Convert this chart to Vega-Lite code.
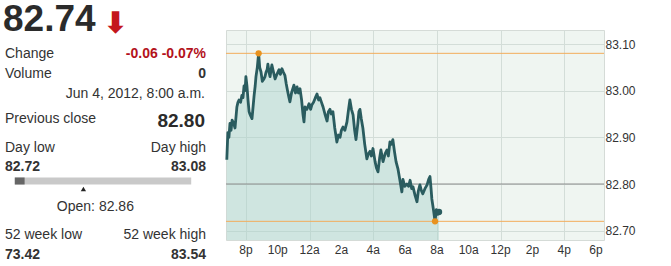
{
  "$schema": "https://vega.github.io/schema/vega-lite/v6.json",
  "padding": 0,
  "spacing": 11,
  "config": {
    "view": {"stroke": null},
    "font": "Liberation Sans",
    "text": {"font": "Liberation Sans"}
  },
  "hconcat": [
    {
      "width": 212,
      "height": 266,
      "layer": [
        {
          "data": {"values": [{"last": "82.74"}]},
          "mark": {"type": "text", "align": "left", "baseline": "alphabetic", "fontSize": 37, "fontWeight": "bold", "color": "#2b2b2b", "x": 2, "y": 30},
          "encoding": {"text": {"field": "last"}}
        },
        {
          "data": {"values": [{"dir": "⬇"}]},
          "mark": {"type": "text", "align": "left", "baseline": "alphabetic", "font": "DejaVu Sans", "fontSize": 30, "fontWeight": "bold", "color": "#c4161c", "x": 102, "y": 32},
          "encoding": {"text": {"field": "dir"}}
        },
        {
          "data": {"values": [{"label": "Change"}]},
          "mark": {"type": "text", "align": "left", "baseline": "alphabetic", "fontSize": 14, "color": "#333", "x": 4, "y": 57},
          "encoding": {"text": {"field": "label"}}
        },
        {
          "data": {"values": [{"label": "Volume"}]},
          "mark": {"type": "text", "align": "left", "baseline": "alphabetic", "fontSize": 14, "color": "#333", "x": 4, "y": 77},
          "encoding": {"text": {"field": "label"}}
        },
        {
          "data": {"values": [{"value": "-0.06 -0.07%"}]},
          "mark": {"type": "text", "align": "right", "baseline": "alphabetic", "fontSize": 14, "fontWeight": "bold", "color": "#b3121b", "x": 205, "y": 57},
          "encoding": {"text": {"field": "value"}}
        },
        {
          "data": {"values": [{"value": "0"}]},
          "mark": {"type": "text", "align": "right", "baseline": "alphabetic", "fontSize": 14, "fontWeight": "bold", "color": "#333", "x": 205, "y": 77},
          "encoding": {"text": {"field": "value"}}
        },
        {
          "data": {"values": [{"value": "Jun 4, 2012, 8:00 a.m."}]},
          "mark": {"type": "text", "align": "right", "baseline": "alphabetic", "fontSize": 14, "color": "#333", "x": 204, "y": 97},
          "encoding": {"text": {"field": "value"}}
        },
        {
          "data": {"values": [{"label": "Previous close"}]},
          "mark": {"type": "text", "align": "left", "baseline": "alphabetic", "fontSize": 14, "color": "#333", "x": 4, "y": 122},
          "encoding": {"text": {"field": "label"}}
        },
        {
          "data": {"values": [{"value": "82.80"}]},
          "mark": {"type": "text", "align": "right", "baseline": "alphabetic", "fontSize": 19, "fontWeight": "bold", "color": "#2b2b2b", "x": 204, "y": 126},
          "encoding": {"text": {"field": "value"}}
        },
        {
          "data": {"values": [{"label": "Day low"}]},
          "mark": {"type": "text", "align": "left", "baseline": "alphabetic", "fontSize": 14, "color": "#333", "x": 4, "y": 151},
          "encoding": {"text": {"field": "label"}}
        },
        {
          "data": {"values": [{"label": "Day high"}]},
          "mark": {"type": "text", "align": "right", "baseline": "alphabetic", "fontSize": 14, "color": "#333", "x": 205, "y": 151},
          "encoding": {"text": {"field": "label"}}
        },
        {
          "data": {"values": [{"value": "82.72"}]},
          "mark": {"type": "text", "align": "left", "baseline": "alphabetic", "fontSize": 14, "fontWeight": "bold", "color": "#333", "x": 4, "y": 170},
          "encoding": {"text": {"field": "value"}}
        },
        {
          "data": {"values": [{"value": "83.08"}]},
          "mark": {"type": "text", "align": "right", "baseline": "alphabetic", "fontSize": 14, "fontWeight": "bold", "color": "#333", "x": 205, "y": 170},
          "encoding": {"text": {"field": "value"}}
        },
        {
          "data": {"values": [{"low": 82.72, "high": 83.08, "last": 82.74, "open": 82.86}]},
          "layer": [
            {
              "mark": {"type": "rule", "strokeWidth": 7, "color": "#c9c9c9", "y": 180},
              "encoding": {
                "x": {"field": "low", "type": "quantitative", "scale": {"domain": [82.72, 83.08], "range": [4, 200]}, "axis": null},
                "x2": {"field": "high"}
              }
            },
            {
              "mark": {"type": "rule", "strokeWidth": 7, "color": "#666", "y": 180},
              "encoding": {
                "x": {"field": "low", "type": "quantitative"},
                "x2": {"field": "last"}
              }
            },
            {
              "mark": {"type": "point", "shape": "triangle-up", "filled": true, "size": 28, "color": "#222", "opacity": 1, "y": 188},
              "encoding": {"x": {"field": "open", "type": "quantitative"}}
            },
            {
              "mark": {"type": "text", "align": "center", "baseline": "alphabetic", "fontSize": 14, "color": "#333", "dx": 12, "y": 210},
              "encoding": {
                "x": {"field": "open", "type": "quantitative"},
                "text": {"value": "Open: 82.86"}
              }
            }
          ]
        },
        {
          "data": {"values": [{"label": "52 week low"}]},
          "mark": {"type": "text", "align": "left", "baseline": "alphabetic", "fontSize": 14, "color": "#333", "x": 4, "y": 238},
          "encoding": {"text": {"field": "label"}}
        },
        {
          "data": {"values": [{"label": "52 week high"}]},
          "mark": {"type": "text", "align": "right", "baseline": "alphabetic", "fontSize": 14, "color": "#333", "x": 205, "y": 238},
          "encoding": {"text": {"field": "label"}}
        },
        {
          "data": {"values": [{"value": "73.42"}]},
          "mark": {"type": "text", "align": "left", "baseline": "alphabetic", "fontSize": 14, "fontWeight": "bold", "color": "#333", "x": 4, "y": 258},
          "encoding": {"text": {"field": "value"}}
        },
        {
          "data": {"values": [{"value": "83.54"}]},
          "mark": {"type": "text", "align": "right", "baseline": "alphabetic", "fontSize": 14, "fontWeight": "bold", "color": "#333", "x": 205, "y": 258},
          "encoding": {"text": {"field": "value"}}
        },
        {
          "data": {"values": [{"sep": "quote"}]},
          "mark": {"type": "rule", "color": "#d0d0d0", "strokeWidth": 1, "x": 0, "x2": 212, "y": 104},
          "encoding": {}
        },
        {
          "data": {"values": [{"sep": "day"}]},
          "mark": {"type": "rule", "color": "#d0d0d0", "strokeWidth": 1, "x": 0, "x2": 212, "y": 134},
          "encoding": {}
        },
        {
          "data": {"values": [{"sep": "week"}]},
          "mark": {"type": "rule", "color": "#d0d0d0", "strokeWidth": 1, "x": 0, "x2": 212, "y": 222},
          "encoding": {}
        }
      ]
    },
    {
      "spacing": 0,
      "vconcat": [
        {
          "width": 378,
          "height": 28,
          "data": {"values": [{"note": ""}]},
          "mark": {"type": "text"},
          "encoding": {"text": {"field": "note"}}
        },
        {
          "width": 378,
          "height": 210,
          "view": {"fill": "#eff5f1", "stroke": "#d5dbd7"},
          "layer": [
            {
              "data": {"name": "series", "values": [
                {"t": "2012-06-03T18:48Z", "price": 82.852},
                {"t": "2012-06-03T18:52Z", "price": 82.91},
                {"t": "2012-06-03T18:56Z", "price": 82.90},
                {"t": "2012-06-03T19:00Z", "price": 82.93},
                {"t": "2012-06-03T19:04Z", "price": 82.915},
                {"t": "2012-06-03T19:08Z", "price": 82.937},
                {"t": "2012-06-03T19:14Z", "price": 82.93},
                {"t": "2012-06-03T19:19Z", "price": 82.92},
                {"t": "2012-06-03T19:26Z", "price": 82.965},
                {"t": "2012-06-03T19:30Z", "price": 82.975},
                {"t": "2012-06-03T19:34Z", "price": 82.98},
                {"t": "2012-06-03T19:40Z", "price": 82.975},
                {"t": "2012-06-03T19:45Z", "price": 82.99},
                {"t": "2012-06-03T19:49Z", "price": 82.985},
                {"t": "2012-06-03T19:53Z", "price": 83.01},
                {"t": "2012-06-03T19:57Z", "price": 83.00},
                {"t": "2012-06-03T20:00Z", "price": 83.03},
                {"t": "2012-06-03T20:04Z", "price": 83.01},
                {"t": "2012-06-03T20:08Z", "price": 82.98},
                {"t": "2012-06-03T20:12Z", "price": 82.955},
                {"t": "2012-06-03T20:15Z", "price": 82.95},
                {"t": "2012-06-03T20:19Z", "price": 82.945},
                {"t": "2012-06-03T20:23Z", "price": 82.94},
                {"t": "2012-06-03T20:27Z", "price": 82.965},
                {"t": "2012-06-03T20:31Z", "price": 82.99},
                {"t": "2012-06-03T20:35Z", "price": 83.01},
                {"t": "2012-06-03T20:38Z", "price": 83.03},
                {"t": "2012-06-03T20:43Z", "price": 83.05},
                {"t": "2012-06-03T20:48Z", "price": 83.08},
                {"t": "2012-06-03T20:52Z", "price": 83.05},
                {"t": "2012-06-03T20:57Z", "price": 83.04},
                {"t": "2012-06-03T21:02Z", "price": 83.02},
                {"t": "2012-06-03T21:08Z", "price": 83.025},
                {"t": "2012-06-03T21:12Z", "price": 83.03},
                {"t": "2012-06-03T21:16Z", "price": 83.04},
                {"t": "2012-06-03T21:20Z", "price": 83.045},
                {"t": "2012-06-03T21:23Z", "price": 83.057},
                {"t": "2012-06-03T21:27Z", "price": 83.04},
                {"t": "2012-06-03T21:31Z", "price": 83.03},
                {"t": "2012-06-03T21:35Z", "price": 83.045},
                {"t": "2012-06-03T21:38Z", "price": 83.055},
                {"t": "2012-06-03T21:44Z", "price": 83.04},
                {"t": "2012-06-03T21:50Z", "price": 83.025},
                {"t": "2012-06-03T21:57Z", "price": 83.035},
                {"t": "2012-06-03T22:05Z", "price": 83.045},
                {"t": "2012-06-03T22:10Z", "price": 83.035},
                {"t": "2012-06-03T22:16Z", "price": 83.047},
                {"t": "2012-06-03T22:21Z", "price": 83.04},
                {"t": "2012-06-03T22:27Z", "price": 83.033},
                {"t": "2012-06-03T22:32Z", "price": 83.015},
                {"t": "2012-06-03T22:37Z", "price": 83.0},
                {"t": "2012-06-03T22:42Z", "price": 82.986},
                {"t": "2012-06-03T22:46Z", "price": 82.976},
                {"t": "2012-06-03T22:52Z", "price": 82.995},
                {"t": "2012-06-03T23:01Z", "price": 83.012},
                {"t": "2012-06-03T23:07Z", "price": 82.995},
                {"t": "2012-06-03T23:13Z", "price": 83.008},
                {"t": "2012-06-03T23:18Z", "price": 82.995},
                {"t": "2012-06-03T23:24Z", "price": 83.004},
                {"t": "2012-06-03T23:30Z", "price": 82.98},
                {"t": "2012-06-03T23:35Z", "price": 82.95},
                {"t": "2012-06-03T23:39Z", "price": 82.933},
                {"t": "2012-06-03T23:43Z", "price": 82.965},
                {"t": "2012-06-03T23:50Z", "price": 82.96},
                {"t": "2012-06-03T23:58Z", "price": 82.972},
                {"t": "2012-06-04T00:04Z", "price": 82.96},
                {"t": "2012-06-04T00:09Z", "price": 82.97},
                {"t": "2012-06-04T00:15Z", "price": 82.975},
                {"t": "2012-06-04T00:22Z", "price": 82.985},
                {"t": "2012-06-04T00:28Z", "price": 82.993},
                {"t": "2012-06-04T00:34Z", "price": 82.98},
                {"t": "2012-06-04T00:39Z", "price": 82.985},
                {"t": "2012-06-04T00:45Z", "price": 82.975},
                {"t": "2012-06-04T00:51Z", "price": 82.965},
                {"t": "2012-06-04T00:58Z", "price": 82.95},
                {"t": "2012-06-04T01:06Z", "price": 82.935},
                {"t": "2012-06-04T01:11Z", "price": 82.955},
                {"t": "2012-06-04T01:17Z", "price": 82.96},
                {"t": "2012-06-04T01:22Z", "price": 82.95},
                {"t": "2012-06-04T01:28Z", "price": 82.955},
                {"t": "2012-06-04T01:35Z", "price": 82.92},
                {"t": "2012-06-04T01:43Z", "price": 82.89},
                {"t": "2012-06-04T01:49Z", "price": 82.905},
                {"t": "2012-06-04T01:55Z", "price": 82.90},
                {"t": "2012-06-04T02:00Z", "price": 82.915},
                {"t": "2012-06-04T02:06Z", "price": 82.922},
                {"t": "2012-06-04T02:13Z", "price": 82.915},
                {"t": "2012-06-04T02:21Z", "price": 82.933},
                {"t": "2012-06-04T02:27Z", "price": 82.96},
                {"t": "2012-06-04T02:32Z", "price": 82.98},
                {"t": "2012-06-04T02:38Z", "price": 82.96},
                {"t": "2012-06-04T02:44Z", "price": 82.948},
                {"t": "2012-06-04T02:50Z", "price": 82.915},
                {"t": "2012-06-04T02:55Z", "price": 82.895},
                {"t": "2012-06-04T03:02Z", "price": 82.93},
                {"t": "2012-06-04T03:06Z", "price": 82.955},
                {"t": "2012-06-04T03:10Z", "price": 82.96},
                {"t": "2012-06-04T03:15Z", "price": 82.94},
                {"t": "2012-06-04T03:21Z", "price": 82.92},
                {"t": "2012-06-04T03:28Z", "price": 82.885},
                {"t": "2012-06-04T03:36Z", "price": 82.854},
                {"t": "2012-06-04T03:42Z", "price": 82.865},
                {"t": "2012-06-04T03:48Z", "price": 82.87},
                {"t": "2012-06-04T03:53Z", "price": 82.86},
                {"t": "2012-06-04T03:59Z", "price": 82.876},
                {"t": "2012-06-04T04:07Z", "price": 82.848},
                {"t": "2012-06-04T04:12Z", "price": 82.835},
                {"t": "2012-06-04T04:18Z", "price": 82.826},
                {"t": "2012-06-04T04:24Z", "price": 82.855},
                {"t": "2012-06-04T04:29Z", "price": 82.873},
                {"t": "2012-06-04T04:37Z", "price": 82.848},
                {"t": "2012-06-04T04:45Z", "price": 82.865},
                {"t": "2012-06-04T04:52Z", "price": 82.873},
                {"t": "2012-06-04T04:57Z", "price": 82.86},
                {"t": "2012-06-04T05:03Z", "price": 82.89},
                {"t": "2012-06-04T05:08Z", "price": 82.885},
                {"t": "2012-06-04T05:14Z", "price": 82.895},
                {"t": "2012-06-04T05:20Z", "price": 82.87},
                {"t": "2012-06-04T05:26Z", "price": 82.848},
                {"t": "2012-06-04T05:33Z", "price": 82.833},
                {"t": "2012-06-04T05:40Z", "price": 82.81},
                {"t": "2012-06-04T05:48Z", "price": 82.783},
                {"t": "2012-06-04T05:52Z", "price": 82.81},
                {"t": "2012-06-04T05:59Z", "price": 82.795},
                {"t": "2012-06-04T06:07Z", "price": 82.80},
                {"t": "2012-06-04T06:13Z", "price": 82.795},
                {"t": "2012-06-04T06:19Z", "price": 82.808},
                {"t": "2012-06-04T06:25Z", "price": 82.79},
                {"t": "2012-06-04T06:30Z", "price": 82.794},
                {"t": "2012-06-04T06:38Z", "price": 82.775},
                {"t": "2012-06-04T06:45Z", "price": 82.762},
                {"t": "2012-06-04T06:50Z", "price": 82.785},
                {"t": "2012-06-04T06:56Z", "price": 82.798},
                {"t": "2012-06-04T07:02Z", "price": 82.785},
                {"t": "2012-06-04T07:07Z", "price": 82.779},
                {"t": "2012-06-04T07:15Z", "price": 82.79},
                {"t": "2012-06-04T07:23Z", "price": 82.798},
                {"t": "2012-06-04T07:29Z", "price": 82.81},
                {"t": "2012-06-04T07:34Z", "price": 82.816},
                {"t": "2012-06-04T07:38Z", "price": 82.79},
                {"t": "2012-06-04T07:41Z", "price": 82.768},
                {"t": "2012-06-04T07:47Z", "price": 82.745},
                {"t": "2012-06-04T07:53Z", "price": 82.72},
                {"t": "2012-06-04T07:58Z", "price": 82.745},
                {"t": "2012-06-04T08:03Z", "price": 82.735},
                {"t": "2012-06-04T08:08Z", "price": 82.74}
              ]},
              "layer": [
                {
                  "mark": {"type": "area", "color": "#a8d3cc", "opacity": 0.45, "clip": true},
                  "encoding": {
                    "x": {"field": "t", "type": "temporal",
                      "scale": {"type": "utc", "domain": [1338749100000, 1338834600000]},
                      "axis": {"orient": "bottom", "title": null, "grid": true, "gridColor": "#d3ddd8", "domain": false, "ticks": false, "labels": false,
                        "values": [1338753600000, 1338760800000, 1338768000000, 1338775200000, 1338782400000, 1338789600000, 1338796800000, 1338804000000, 1338811200000, 1338818400000, 1338825600000, 1338832800000]}},
                    "y": {"field": "price", "type": "quantitative",
                      "scale": {"domain": [82.68, 83.13], "zero": false, "nice": false},
                      "axis": {"orient": "right", "title": null, "values": [82.7, 82.8, 82.9, 83.0, 83.1], "format": ".2f", "grid": true, "gridColor": "#d3ddd8", "domain": false, "ticks": false, "labelFontSize": 12, "labelColor": "#333", "labelPadding": 1}}
                  }
                },
                {
                  "data": {"values": [{"level": 82.80, "line": "previous close"}]},
                  "mark": {"type": "rule", "color": "#8c8c8c", "strokeWidth": 1},
                  "encoding": {"y": {"field": "level", "type": "quantitative"}}
                },
                {
                  "data": {"values": [{"level": 83.08, "line": "day high"}, {"level": 82.72, "line": "day low"}]},
                  "mark": {"type": "rule", "color": "#f2ad5c", "strokeWidth": 1},
                  "encoding": {"y": {"field": "level", "type": "quantitative"}}
                },
                {
                  "mark": {"type": "line", "color": "#2a5c5f", "strokeWidth": 2.8, "strokeJoin": "round"},
                  "encoding": {
                    "x": {"field": "t", "type": "temporal"},
                    "y": {"field": "price", "type": "quantitative"}
                  }
                },
                {
                  "data": {"values": [{"t": "2012-06-03T20:48Z", "price": 83.08, "kind": "high"}, {"t": "2012-06-04T07:53Z", "price": 82.72, "kind": "low"}]},
                  "mark": {"type": "point", "filled": true, "size": 40, "color": "#e8921f", "opacity": 1},
                  "encoding": {
                    "x": {"field": "t", "type": "temporal"},
                    "y": {"field": "price", "type": "quantitative"}
                  }
                },
                {
                  "data": {"values": [{"t": "2012-06-04T08:08Z", "price": 82.74, "kind": "last"}]},
                  "mark": {"type": "point", "filled": true, "size": 40, "color": "#2a5c5f", "opacity": 1},
                  "encoding": {
                    "x": {"field": "t", "type": "temporal"},
                    "y": {"field": "price", "type": "quantitative"}
                  }
                },
                {
                  "data": {"values": [
                    {"t": "2012-06-03T20:00Z", "tick": "8p"},
                    {"t": "2012-06-03T22:00Z", "tick": "10p"},
                    {"t": "2012-06-04T00:00Z", "tick": "12a"},
                    {"t": "2012-06-04T02:00Z", "tick": "2a"},
                    {"t": "2012-06-04T04:00Z", "tick": "4a"},
                    {"t": "2012-06-04T06:00Z", "tick": "6a"},
                    {"t": "2012-06-04T08:00Z", "tick": "8a"},
                    {"t": "2012-06-04T10:00Z", "tick": "10a"},
                    {"t": "2012-06-04T12:00Z", "tick": "12p"},
                    {"t": "2012-06-04T14:00Z", "tick": "2p"},
                    {"t": "2012-06-04T16:00Z", "tick": "4p"},
                    {"t": "2012-06-04T18:00Z", "tick": "6p"}
                  ]},
                  "mark": {"type": "text", "align": "center", "baseline": "top", "fontSize": 12, "color": "#333", "y": "height", "dy": 5},
                  "encoding": {
                    "x": {"field": "t", "type": "temporal"},
                    "text": {"field": "tick"}
                  }
                }
              ]
            }
          ]
        }
      ]
    }
  ]
}
